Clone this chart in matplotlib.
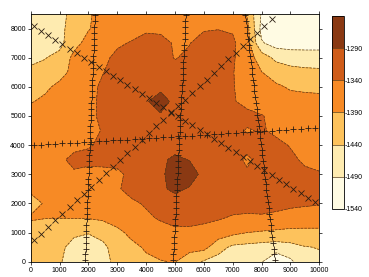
import numpy as np
import matplotlib
matplotlib.use("Agg")
import matplotlib.pyplot as plt

plt.rcParams['font.family'] = ['Liberation Sans', 'DejaVu Sans']
plt.rcParams['axes.unicode_minus'] = False

# grid of the mapped surface (easting x northing)
grid_x = np.arange(0, 10001, 500)
grid_y = np.arange(0, 8501, 500)

# rows from y=0 (bottom) up to y=8500 (top), columns x=0..10000
z_rows = [
    [-1418, -1422, -1435, -1465, -1470, -1458, -1425, -1408, -1398, -1392, -1388, -1420, -1445, -1460, -1462, -1470, -1487, -1530, -1500, -1455, -1450],
    [-1415, -1418, -1430, -1455, -1462, -1450, -1420, -1400, -1385, -1375, -1370, -1372, -1375, -1420, -1450, -1455, -1460, -1465, -1455, -1442, -1438],
    [-1412, -1413, -1418, -1432, -1438, -1425, -1400, -1380, -1368, -1360, -1350, -1350, -1355, -1365, -1378, -1390, -1395, -1400, -1405, -1405, -1405],
    [-1385, -1389, -1389, -1388, -1388, -1382, -1372, -1360, -1348, -1335, -1325, -1326, -1330, -1336, -1345, -1347, -1345, -1348, -1352, -1355, -1355],
    [-1410, -1385, -1378, -1375, -1370, -1365, -1358, -1348, -1335, -1322, -1315, -1318, -1320, -1322, -1322, -1325, -1326, -1330, -1334, -1336, -1338],
    [-1380, -1376, -1372, -1368, -1362, -1358, -1345, -1325, -1318, -1300, -1278, -1295, -1315, -1318, -1318, -1318, -1318, -1318, -1318, -1322, -1326],
    [-1375, -1372, -1368, -1348, -1358, -1358, -1352, -1325, -1318, -1305, -1255, -1262, -1308, -1315, -1318, -1330, -1318, -1318, -1322, -1330, -1336],
    [-1366, -1362, -1352, -1325, -1325, -1322, -1322, -1318, -1310, -1300, -1280, -1292, -1312, -1315, -1315, -1352, -1320, -1322, -1330, -1348, -1355],
    [-1368, -1366, -1362, -1355, -1345, -1330, -1318, -1315, -1315, -1312, -1310, -1312, -1315, -1315, -1315, -1318, -1320, -1328, -1343, -1355, -1360],
    [-1370, -1368, -1365, -1360, -1355, -1337, -1318, -1315, -1315, -1315, -1312, -1315, -1315, -1315, -1318, -1345, -1335, -1350, -1358, -1362, -1365],
    [-1372, -1370, -1368, -1362, -1358, -1325, -1312, -1312, -1305, -1300, -1310, -1315, -1315, -1315, -1315, -1322, -1337, -1355, -1362, -1365, -1368],
    [-1393, -1382, -1375, -1368, -1355, -1328, -1315, -1312, -1298, -1255, -1312, -1315, -1316, -1318, -1334, -1360, -1368, -1372, -1375, -1377, -1378],
    [-1400, -1398, -1380, -1370, -1358, -1330, -1313, -1312, -1312, -1310, -1315, -1315, -1315, -1318, -1337, -1362, -1372, -1383, -1395, -1398, -1400],
    [-1433, -1425, -1405, -1378, -1368, -1342, -1318, -1312, -1312, -1312, -1322, -1318, -1314, -1314, -1338, -1362, -1389, -1410, -1425, -1430, -1432],
    [-1448, -1442, -1425, -1378, -1370, -1355, -1325, -1318, -1315, -1318, -1343, -1330, -1318, -1316, -1335, -1365, -1415, -1452, -1460, -1462, -1462],
    [-1465, -1462, -1455, -1405, -1375, -1365, -1350, -1335, -1318, -1325, -1345, -1342, -1320, -1318, -1332, -1370, -1485, -1510, -1515, -1515, -1515],
    [-1470, -1468, -1452, -1420, -1393, -1372, -1368, -1365, -1350, -1350, -1355, -1350, -1345, -1342, -1345, -1375, -1505, -1525, -1530, -1530, -1530],
    [-1475, -1472, -1455, -1425, -1395, -1375, -1370, -1368, -1365, -1362, -1362, -1360, -1358, -1358, -1360, -1395, -1495, -1520, -1525, -1525, -1525],
]

levels = [-1540, -1490, -1440, -1390, -1340, -1290, -1240]
band_colors = ['#fffbe3', '#feebb0', '#fdc25c', '#f78a25', '#cf5c19', '#8a3913']

# survey lines running north-south: shared northings, own eastings
ns_y = [8450, 8250, 8050, 7850, 7650, 7450, 7250, 7050, 6850, 6650, 6450, 6250, 6050, 5850,
        5650, 5450, 5250, 5050, 4850, 4650, 4450, 4250, 4050, 3850, 3650, 3450, 3250, 3050,
        2850, 2650, 2450, 2250, 2050, 1850, 1650, 1450, 1250, 1050, 850, 650, 450, 250, 50]
line_a_x = [2230, 2220, 2210, 2200, 2200, 2190, 2180, 2170, 2160, 2150, 2150, 2140, 2130, 2120,
            2110, 2100, 2100, 2090, 2080, 2070, 2060, 2060, 2050, 2040, 2030, 2020, 2010, 2010,
            2000, 1990, 1980, 1970, 1960, 1960, 1950, 1940, 1930, 1920, 1910, 1910, 1900, 1890, 1880]
line_b_x = [5370, 5360, 5350, 5340, 5330, 5320, 5310, 5300, 5290, 5280, 5270, 5260, 5250, 5230,
            5220, 5210, 5200, 5190, 5180, 5170, 5160, 5150, 5140, 5130, 5120, 5110, 5100, 5090,
            5080, 5070, 5060, 5050, 5040, 5030, 5020, 5010, 5000, 4990, 4970, 4960, 4950, 4940, 4930]
line_c_x = [7440, 7460, 7490, 7510, 7530, 7560, 7580, 7610, 7630, 7660, 7680, 7710, 7730, 7750,
            7780, 7800, 7830, 7850, 7880, 7900, 7930, 7950, 7970, 8000, 8020, 8050, 8070, 8100,
            8120, 8150, 8170, 8200, 8220, 8240, 8270, 8290, 8320, 8340, 8370, 8390, 8420, 8440, 8460]

# survey lines running east-west / diagonal: shared eastings, own northings
ew_x = [100, 350, 600, 850, 1100, 1350, 1600, 1850, 2100, 2350, 2600, 2850, 3100, 3350,
        3600, 3850, 4100, 4350, 4600, 4850, 5100, 5350, 5600, 5850, 6100, 6350, 6600, 6850,
        7100, 7350, 7600, 7850, 8100, 8350, 8600, 8850, 9100, 9350, 9600, 9850]
line_d_y = [8090, 7930, 7780, 7620, 7470, 7310, 7160, 7000, 6850, 6690, 6540, 6380, 6230, 6070,
            5920, 5760, 5610, 5450, 5300, 5140, 4990, 4830, 4680, 4520, 4370, 4210, 4060, 3900,
            3750, 3590, 3440, 3280, 3130, 2970, 2820, 2660, 2510, 2350, 2200, 2040]
line_e_y = [4000, 4010, 4030, 4040, 4060, 4070, 4090, 4100, 4120, 4130, 4150, 4160, 4180, 4190,
            4210, 4220, 4240, 4260, 4270, 4290, 4300, 4320, 4330, 4350, 4360, 4380, 4390, 4410,
            4420, 4440, 4450, 4470, 4480, 4500, 4520, 4530, 4550, 4560, 4580, 4590]
line_f_x = [100, 350, 600, 850, 1100, 1350, 1600, 1850, 2100, 2350, 2600, 2850, 3100, 3350,
            3600, 3850, 4100, 4350, 4600, 4850, 5100, 5350, 5600, 5850, 6100, 6350, 6600, 6850,
            7100, 7350, 7600, 7850, 8100, 8350]
line_f_y = [730, 960, 1190, 1420, 1650, 1880, 2110, 2340, 2570, 2800, 3030, 3260, 3490, 3720,
            3950, 4180, 4410, 4640, 4870, 5100, 5330, 5560, 5790, 6020, 6250, 6480, 6710, 6940,
            7170, 7400, 7630, 7860, 8090, 8320]

z = np.array(z_rows)

fig = plt.figure(figsize=(3.69, 2.77), dpi=100)
ax = fig.add_axes([0.0832, 0.0552, 0.7821, 0.8943])

cf = ax.contourf(grid_x, grid_y, z, levels=levels, colors=band_colors)
cl = ax.contour(grid_x, grid_y, z, levels=levels[1:-1], colors='#5a3c18', linewidths=0.5)

mk = dict(linestyle='none', color='#2b1d12', ms=4.5, mew=0.6)
ax.plot(line_a_x, ns_y, marker='+', **mk)
ax.plot(line_b_x, ns_y, marker='+', **mk)
ax.plot(line_c_x, ns_y, marker='+', **mk)
ax.plot(ew_x, line_e_y, marker='+', **mk)
ax.plot(ew_x, line_d_y, marker='x', **mk)
ax.plot(line_f_x, line_f_y, marker='x', **mk)

ax.set_xlim(0, 10000)
ax.set_ylim(0, 8500)
ax.set_xticks(range(0, 10001, 1000))
ax.set_yticks(range(0, 8001, 1000))
ax.tick_params(labelsize=5, length=2.5, width=0.5, direction='out',
               top=True, right=True, pad=1)
for s in ax.spines.values():
    s.set_linewidth(0.6)

cax = fig.add_axes([0.899, 0.2455, 0.0333, 0.6968])
cb = fig.colorbar(cf, cax=cax, ticks=levels[:-1])
cb.add_lines(cl)
cb.ax.tick_params(labelsize=5, length=0, pad=0.5)
cb.outline.set_linewidth(0.6)

fig.savefig('out.png', dpi=100)
